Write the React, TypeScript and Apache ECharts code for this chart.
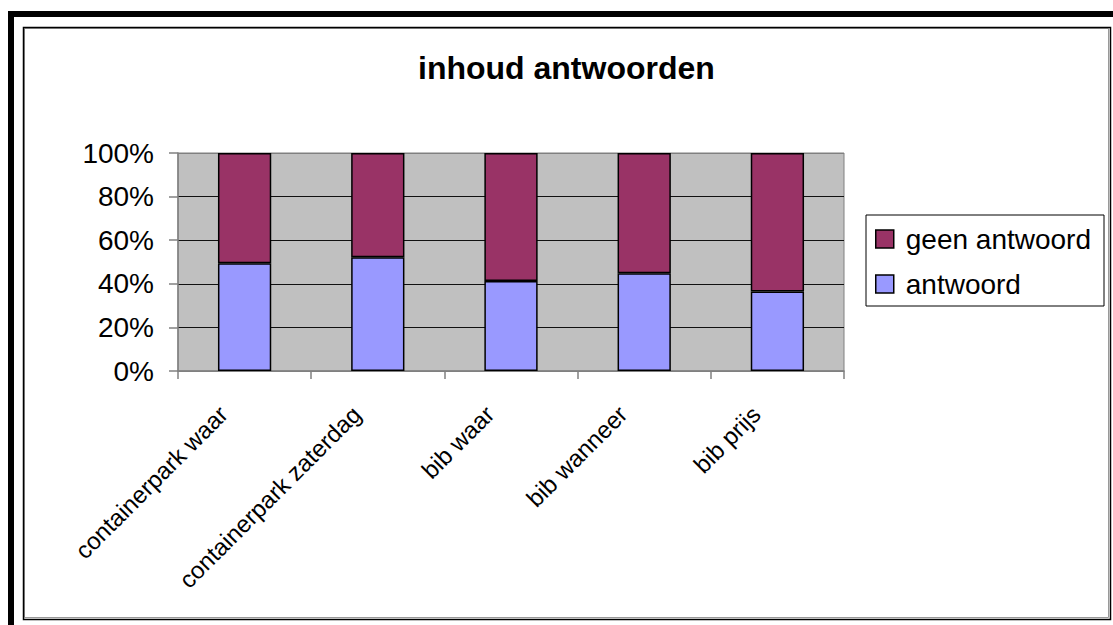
import React, { useEffect, useRef } from "react";
import * as echarts from "echarts";

const categories = [
  "containerpark waar",
  "containerpark zaterdag",
  "bib waar",
  "bib wanneer",
  "bib prijs",
];
const antwoord = [49.4, 52.2, 41.3, 44.8, 36.5];
const geenAntwoord = [50.6, 47.8, 58.7, 55.2, 63.5];
const yTicks = [0, 20, 40, 60, 80, 100];

const FONT = "Liberation Sans, Arial, sans-serif";

export default function App() {
  const ref = useRef<HTMLDivElement>(null);
  useEffect(() => {
    document.body.style.margin = "0";
    const chart = echarts.init(ref.current!, null, { renderer: "svg" });
    chart.setOption({
      animation: false,
      backgroundColor: "#fff",
      textStyle: { fontFamily: FONT },
      title: {
        text: "inhoud antwoorden",
        left: 418,
        top: 52,
        padding: 0,
        textStyle: { fontFamily: FONT, fontSize: 32, fontWeight: "bold", color: "#000" },
      },
      grid: {
        left: 178,
        right: 269,
        top: 153,
        bottom: 254,
        show: true,
        backgroundColor: "#C0C0C0",
        borderColor: "#808080",
        borderWidth: 1,
      },
      legend: {
        orient: "vertical",
        left: 866,
        top: 215,
        padding: [10, 13, 8, 9],
        itemWidth: 18,
        itemHeight: 18,
        itemGap: 17,
        itemStyle: { borderColor: "#000", borderWidth: 1.5 },
        borderColor: "#000",
        borderWidth: 1,
        backgroundColor: "#fff",
        data: ["geen antwoord", "antwoord"],
        textStyle: { fontFamily: FONT, fontSize: 28, color: "#000", padding: [0, 0, 0, 7] },
        icon: "rect",
      },
      xAxis: {
        type: "category",
        data: categories,
        boundaryGap: true,
        axisLine: { lineStyle: { color: "#808080", width: 1.5 } },
        axisTick: { show: true, length: 8, lineStyle: { color: "#808080", width: 1.5 } },
        axisLabel: {
          interval: 0,
          rotate: 45,
          margin: 18,
          padding: [0, 30, 0, 0],
          fontFamily: FONT,
          fontSize: 24,
          color: "#000",
        },
      },
      yAxis: {
        type: "value",
        min: yTicks[0],
        max: yTicks[yTicks.length - 1],
        interval: 20,
        axisLine: { show: true, lineStyle: { color: "#808080", width: 1.5 } },
        axisTick: { show: true, length: 9, lineStyle: { color: "#808080", width: 1.5 } },
        axisLabel: {
          formatter: "{value}%",
          margin: 24,
          fontFamily: FONT,
          fontSize: 28,
          color: "#000",
        },
        splitLine: {
          show: true,
          lineStyle: {
            color: ["#808080", "#111", "#111", "#111", "#111", "#808080"],
            width: 1,
          },
        },
      },
      series: [
        {
          name: "antwoord",
          type: "bar",
          stack: "total",
          barWidth: "40%",
          data: antwoord,
          itemStyle: { color: "#9999FF", borderColor: "#000", borderWidth: 1.5 },
        },
        {
          name: "geen antwoord",
          type: "bar",
          stack: "total",
          barWidth: "40%",
          data: geenAntwoord,
          itemStyle: { color: "#993366", borderColor: "#000", borderWidth: 1.5 },
        },
      ],
      graphic: [
        {
          type: "rect",
          shape: { x: 11, y: 14, width: 1200, height: 700 },
          style: { fill: "none", stroke: "#000", lineWidth: 6 },
          silent: true,
        },
        {
          type: "rect",
          shape: { x: 24.5, y: 28.5, width: 1084, height: 589 },
          style: { fill: "none", stroke: "#999", lineWidth: 1 },
          silent: true,
        },
        {
          type: "rect",
          shape: { x: 23.5, y: 27.5, width: 1087, height: 592 },
          style: { fill: "none", stroke: "#000", lineWidth: 1.5 },
          silent: true,
        },
      ],
    });
    return () => chart.dispose();
  }, []);
  return (
    <div
      ref={ref}
      style={{ position: "absolute", left: 0, top: 0, width: 1113, height: 625 }}
    />
  );
}
